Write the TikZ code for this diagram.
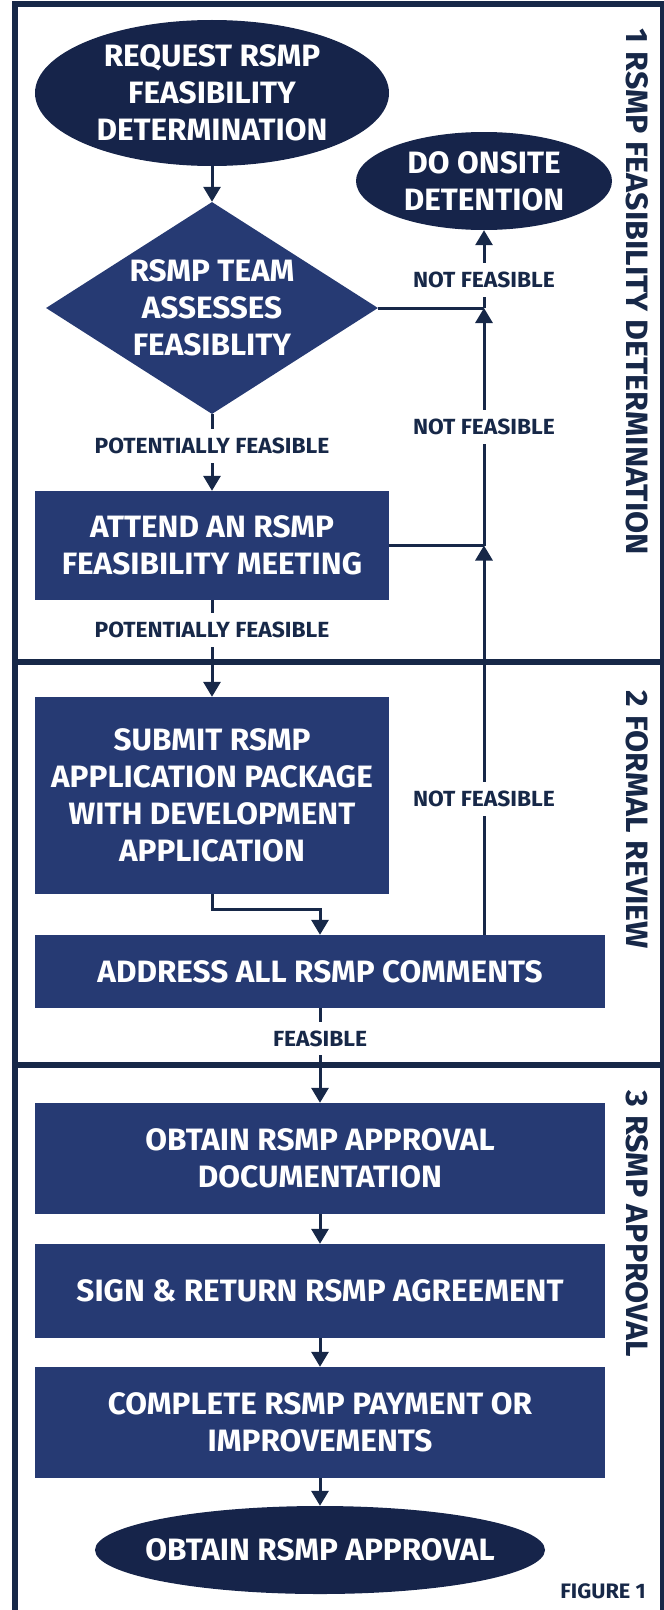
\documentclass[tikz,border=0pt]{standalone}
\usepackage{fontspec}
\setmainfont{Fira Sans}
\newfontfamily\stepfam[FakeStretch=1.02]{Fira Sans}
\newfontfamily\tagfam[FakeStretch=1.04]{Fira Sans}
\newcommand{\stepfont}{\stepfam\bfseries\fontsize{31}{37}\selectfont}
\newcommand{\tagfont}{\tagfam\bfseries\fontsize{22}{26}\selectfont}
\newcommand{\phasefont}{\tagfam\bfseries\fontsize{31}{37}\selectfont}
\newcommand{\figfont}{\tagfam\bfseries\fontsize{21}{25}\selectfont}
\usetikzlibrary{shapes.geometric,arrows.meta,positioning}
\definecolor{navy}{HTML}{263A73}
\definecolor{deep}{HTML}{16244A}
\definecolor{ink}{HTML}{172848}
\begin{document}
\begin{tikzpicture}[x=1bp,y=-1bp,
    frame/.style={draw=ink,line width=6bp},
    link/.style={draw=ink,line width=3bp},
    arr/.style={link,-{Triangle[width=17bp,length=15bp]}},
    stepbox/.style={rectangle,fill=navy,text=white,inner sep=0pt,align=center,font=\stepfont},
    decide/.style={diamond,fill=navy,inner sep=0pt},
    term/.style={ellipse,fill=deep,inner sep=0pt},
    intext/.style={text=white,align=center,font=\stepfont},
    tag/.style={fill=white,text=ink,inner xsep=4bp,inner ysep=9bp,font=\tagfont},
    phase/.style={rotate=-90,text=ink,font=\phasefont}]
    \useasboundingbox (0,0) rectangle (664,1610);
    \draw[frame] (15,1610) -- (15,4) -- (663,4) -- (663,1610);
    \draw[frame] (15,662) -- (663,662);
    \draw[frame] (15,1065) -- (663,1065);

    \node[term,minimum width=354bp,minimum height=146bp,label={[intext]center:REQUEST RSMP\\FEASIBILITY\\DETERMINATION}] (request) at (212,93) {};
    \node[decide,minimum width=332bp,minimum height=212bp,label={[intext]center:RSMP TEAM\\ASSESSES\\FEASIBLITY}] (assess) at (212,308) {};
    \node[term,minimum width=256bp,minimum height=98bp,label={[intext]center:DO ONSITE\\DETENTION}] (onsite) at (484,181) {};
    \node[stepbox,minimum width=354bp,minimum height=109bp] (attend) at (212,545.5) {ATTEND AN RSMP\\FEASIBILITY MEETING};
    \node[stepbox,minimum width=354bp,minimum height=197bp] (submit) at (212,795.5) {SUBMIT RSMP\\APPLICATION PACKAGE\\WITH DEVELOPMENT\\APPLICATION};
    \node[stepbox,minimum width=570bp,minimum height=73bp] (address) at (320,971.5) {ADDRESS ALL RSMP COMMENTS};
    \node[stepbox,minimum width=570bp,minimum height=111bp] (obtaindoc) at (320,1158.5) {OBTAIN RSMP APPROVAL\\DOCUMENTATION};
    \node[stepbox,minimum width=570bp,minimum height=94bp] (sign) at (320,1291) {SIGN \& RETURN RSMP AGREEMENT};
    \node[stepbox,minimum width=570bp,minimum height=111bp] (complete) at (320,1422.5) {COMPLETE RSMP PAYMENT OR\\IMPROVEMENTS};
    \node[term,minimum width=450bp,minimum height=88bp,label={[intext]center:OBTAIN RSMP APPROVAL}] (approval) at (320,1550) {};

    \coordinate (fromaddr) at (onsite.south |- address.north);
    \coordinate (meetjoin) at (onsite.south |- attend.east);
    \coordinate (teamjoin) at (onsite.south |- assess.east);

    \draw[arr] (request) -- (assess);
    \draw[arr] (assess) -- node[tag,pos=.42]{POTENTIALLY FEASIBLE} (attend);
    \draw[arr] (attend) -- node[tag,pos=.31]{POTENTIALLY FEASIBLE} (submit);
    \draw[arr] (submit.south) -- ++(0,15) -| (address.north);
    \draw[arr] (address) -- node[tag,pos=.32]{FEASIBLE} (obtaindoc);
    \draw[arr] (obtaindoc) -- (sign);
    \draw[arr] (sign) -- (complete);
    \draw[arr] (complete) -- (approval);
    \draw[link] (assess.east) -- (teamjoin);
    \draw[link] (attend.east) -- (meetjoin);
    \draw[arr] (fromaddr) -- node[tag,pos=.35]{NOT FEASIBLE} (meetjoin);
    \draw[arr] (meetjoin) -- node[tag]{NOT FEASIBLE} (teamjoin);
    \draw[arr] (teamjoin) -- node[tag,pos=.36]{NOT FEASIBLE} (onsite);

    \node[phase] (phaseone) at (637,292) {1 RSMP FEASIBILITY DETERMINATION};
    \node[phase] (phasetwo) at (637,820) {2 FORMAL REVIEW};
    \node[phase] (phasethree) at (637,1224) {3 RSMP APPROVAL};
    \node[text=ink,font=\figfont] (figlabel) at (603,1591) {FIGURE 1};
\end{tikzpicture}
\end{document}
